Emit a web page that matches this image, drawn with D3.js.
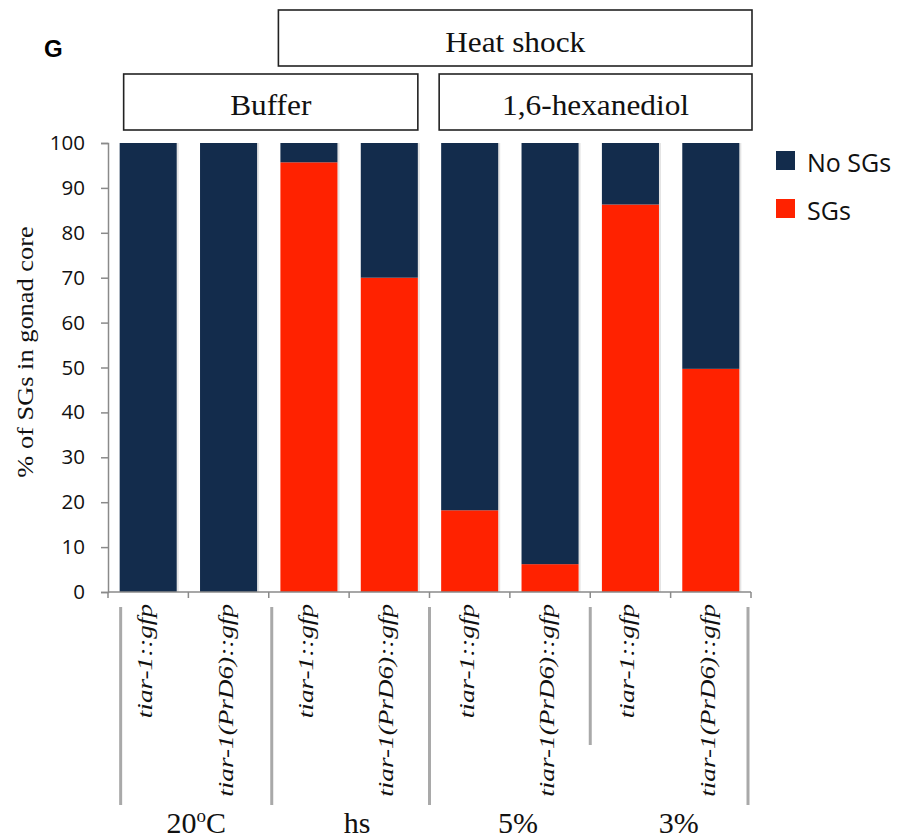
<!DOCTYPE html>
<html>
<head>
<meta charset="utf-8">
<script src="https://cdn.jsdelivr.net/npm/d3@7"></script>
<style>
  html, body { margin: 0; padding: 0; background: #fff; }
  svg { display: block; }
</style>
</head>
<body>
<svg id="chart" width="901" height="838"></svg>
<script>
// ---- data ----
const strains = ["tiar-1::gfp", "tiar-1(PrD6)::gfp", "tiar-1::gfp", "tiar-1(PrD6)::gfp",
                 "tiar-1::gfp", "tiar-1(PrD6)::gfp", "tiar-1::gfp", "tiar-1(PrD6)::gfp"];
const conditions = ["20°C", "hs", "5%", "3%"];
const sgsValues   = [0, 0, 95.7, 70.0, 18.2, 6.2, 86.3, 49.7];
const noSgsValues = [100, 100, 4.3, 30.0, 81.8, 93.8, 13.7, 50.3];
const seriesNames = ["SGs", "No SGs"];
const seriesColors = ["#ff2200", "#132c4c"];
const yTicks = [0, 10, 20, 30, 40, 50, 60, 70, 80, 90, 100];
const headers = [
  { label: "Heat shock", from: 2, to: 7, row: 0 },
  { label: "Buffer", from: 0, to: 3, row: 1 },
  { label: "1,6-hexanediol", from: 4, to: 7, row: 1 }
];

// ---- setup ----
const svg = d3.select("#chart");
const ids = strains.map((s, i) => i);
const table = ids.map(i => ({ id: i, "SGs": sgsValues[i], "No SGs": noSgsValues[i] }));

const x0 = 108, x1 = 751, yTop = 143, yBot = 592;
const x = d3.scaleBand().domain(ids).range([x0, x1]).paddingInner(0.29).paddingOuter(0.145);
const y = d3.scaleLinear().domain([0, 100]).range([yBot, yTop]);
const color = d3.scaleOrdinal().domain(seriesNames).range(seriesColors);
const bw = x.bandwidth();
const step = x.step();

// ---- bars ----
const stacked = d3.stack().keys(seriesNames)(table);
const g = svg.append("g");
g.selectAll("rect.shadow").data(ids).join("rect")
  .attr("x", d => x(d) + bw).attr("y", y(100)).attr("width", 2)
  .attr("height", y(0) - y(100)).attr("fill", "#e4e4e4");
stacked.forEach(s => {
  g.selectAll(null).data(s.filter(d => d[1] > d[0])).join("rect")
    .attr("x", d => x(d.data.id))
    .attr("y", d => y(d[1]))
    .attr("width", bw)
    .attr("height", d => y(d[0]) - y(d[1]))
    .attr("fill", color(s.key));
});

// ---- y axis ----
const yAxis = svg.append("g").attr("transform", `translate(${x0},0)`)
  .call(d3.axisLeft(y).tickValues(yTicks).tickSize(7).tickPadding(16));
yAxis.select(".domain").attr("stroke", "#8a8a8a").attr("stroke-width", 1.5);
yAxis.selectAll(".tick line").attr("stroke", "#8a8a8a").attr("stroke-width", 1.5);
yAxis.selectAll(".tick text")
  .attr("font-family", "'Open Sans', sans-serif").attr("font-size", 20.5).attr("fill", "#111");

// ---- x axis line and boundary ticks ----
const bounds = d3.range(strains.length + 1).map(i => x0 + i * step);
svg.append("line").attr("x1", x0).attr("x2", x1).attr("y1", yBot).attr("y2", yBot)
  .attr("stroke", "#8a8a8a").attr("stroke-width", 1.5);
svg.selectAll("line.xt").data(bounds).join("line")
  .attr("x1", d => d).attr("x2", d => d).attr("y1", yBot).attr("y2", yBot + 6)
  .attr("stroke", "#8a8a8a").attr("stroke-width", 1.5);

// ---- strain labels (rotated, italic) ----
svg.selectAll("text.strain").data(ids).join("text")
  .attr("class", "strain")
  .attr("transform", d => `translate(${x(d) + bw / 2 + 4},604) rotate(-90) scale(1.36,1)`)
  .attr("text-anchor", "end")
  .attr("font-family", "'Liberation Serif', 'Times New Roman', serif")
  .attr("font-style", "italic")
  .attr("font-size", 20)
  .attr("fill", "#111")
  .text(d => strains[d]);

// ---- group separators ----
const sepData = [
  { x: x(0) + 1, y2: 805 },
  { x: x0 + 2 * step + 3, y2: 805 },
  { x: x0 + 4 * step, y2: 805 },
  { x: x0 + 6 * step, y2: 745 },
  { x: x1 - 3, y2: 805 }
];
svg.selectAll("line.sep").data(sepData).join("line")
  .attr("x1", d => d.x).attr("x2", d => d.x).attr("y1", 607).attr("y2", d => d.y2)
  .attr("stroke", "#a9a9a9").attr("stroke-width", 3);

// ---- condition labels ----
const condG = svg.selectAll("text.cond").data(conditions).join("text")
  .attr("class", "cond")
  .attr("x", (d, i) => x0 + (2 * i + 1) * step + 8)
  .attr("y", 833)
  .attr("text-anchor", "middle")
  .attr("font-family", "'Liberation Serif', 'Times New Roman', serif")
  .attr("font-size", 30)
  .attr("fill", "#111");
condG.each(function(d) {
  const t = d3.select(this);
  if (d.includes("°")) {
    const parts = d.split("°");
    t.append("tspan").text(parts[0]);
    t.append("tspan").attr("font-size", 19).attr("dy", -11).text("o");
    t.append("tspan").attr("dy", 11).text(parts[1]);
  } else {
    t.text(d);
  }
});

// ---- header boxes ----
const rowY = [{ top: 10, h: 56, base: 52 }, { top: 74, h: 56, base: 115 }];
const headerBox = h => {
  const left = h.from === 0 ? x(h.from) + 4 : x(h.from) - 2;
  const right = h.to === strains.length - 1 ? x1 + 1 : x(h.to) + bw;
  return { left, right };
};
const hg = svg.selectAll("g.header").data(headers).join("g").attr("class", "header");
hg.append("rect")
  .attr("x", d => headerBox(d).left)
  .attr("y", d => rowY[d.row].top)
  .attr("width", d => headerBox(d).right - headerBox(d).left)
  .attr("height", d => rowY[d.row].h)
  .attr("fill", "#fff").attr("stroke", "#222").attr("stroke-width", 1.6);
hg.append("text")
  .attr("x", d => (headerBox(d).left + headerBox(d).right) / 2)
  .attr("y", d => rowY[d.row].base)
  .attr("text-anchor", "middle")
  .attr("font-family", "'Liberation Serif', 'Times New Roman', serif")
  .attr("font-size", 29)
  .attr("fill", "#111")
  .attr("transform", d => {
    const cx = (headerBox(d).left + headerBox(d).right) / 2;
    return `translate(${cx},0) scale(1.08,1) translate(${-cx},0)`;
  })
  .text(d => d.label);

// ---- panel letter ----
svg.append("text").attr("x", 44).attr("y", 57)
  .attr("font-family", "'Liberation Sans', Arial, sans-serif")
  .attr("font-weight", "bold").attr("font-size", 24).attr("fill", "#000")
  .text("G");

// ---- y axis title ----
svg.append("text")
  .attr("transform", `translate(33,352) rotate(-90) scale(1.1,1)`)
  .attr("text-anchor", "middle")
  .attr("font-family", "'Liberation Serif', 'Times New Roman', serif")
  .attr("font-size", 24)
  .attr("fill", "#111")
  .text("% of SGs in gonad core");

// ---- legend ----
const legendItems = ["No SGs", "SGs"];
const lg = svg.selectAll("g.legend").data(legendItems).join("g").attr("class", "legend")
  .attr("transform", (d, i) => `translate(776,${151 + i * 48})`);
lg.append("rect").attr("width", 19).attr("height", 19).attr("fill", d => color(d));
lg.append("text").attr("x", 31).attr("y", 21)
  .attr("font-family", "'Open Sans', sans-serif").attr("font-size", 25).attr("fill", "#111")
  .text(d => d);
</script>
</body>
</html>
